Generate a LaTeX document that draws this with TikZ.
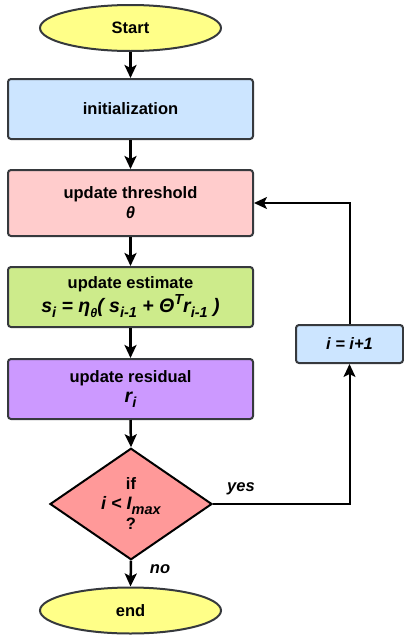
\documentclass[tikz,border=0pt]{standalone}
\usepackage{fontspec}
\setmainfont{Liberation Sans}
\usetikzlibrary{shapes.geometric,arrows.meta}
\definecolor{bordc}{HTML}{36393D}
\definecolor{yel}{HTML}{FFFF88}
\definecolor{lblue}{HTML}{CCE5FF}
\definecolor{lred}{HTML}{FFCCCC}
\definecolor{lgreen}{HTML}{CDEB8B}
\definecolor{lpurp}{HTML}{CC99FF}
\definecolor{dred}{HTML}{FF9999}
\newcommand{\msub}[1]{\raisebox{-0.45ex}{\fontsize{14.5}{14}\selectfont #1}}
\newcommand{\msubs}[1]{\raisebox{-0.45ex}{\fontsize{12.5}{12}\selectfont #1}}
\newcommand{\msup}[1]{\raisebox{0.8ex}{\fontsize{14.5}{14}\selectfont #1}}
\newcommand{\bigmath}{\fontsize{19.5}{20}\selectfont}
\tikzset{
  every node/.style={font=\fontsize{16.5}{20}\selectfont\bfseries, align=center},
  term/.style={ellipse, draw=bordc, line width=2pt, fill=yel, minimum width=181pt, minimum height=46pt, inner sep=0pt},
  proc/.style={rectangle, rounded corners=3pt, draw=bordc, line width=2pt, minimum width=245pt, inner sep=0pt},
  dec/.style={diamond, draw=black, line width=2pt, fill=dred, minimum width=162pt, minimum height=106pt, inner sep=0pt},
  arr/.style={line width=2.5pt, -{Stealth[length=13pt,width=12pt,inset=3pt]}},
  loop/.style={line width=2pt, -{Stealth[length=13pt,width=12pt,inset=3pt]}},
  lab/.style={font=\fontsize{16.5}{20}\selectfont\bfseries\itshape}
}
\begin{document}
\begin{tikzpicture}[x=1pt,y=-1pt]
\useasboundingbox (0,0) rectangle (404,635);
\node[term] (start) at (130.5,28) {Start};
\node[proc, fill=lblue, minimum height=60pt] (init) at (130.5,109) {initialization};
\node[proc, fill=lred, minimum height=66pt] (thr) at (130.5,203) {update threshold\\ \itshape θ};
\node[proc, fill=lgreen, minimum height=60pt] (est) at (130.5,297) {update estimate\\[1pt] {\bigmath\itshape s\msub{i} = η\msubs{θ}( s\msub{i-1} + Θ\msup{T}r\msub{i-1} )}};
\node[proc, fill=lpurp, minimum height=60pt] (res) at (130.5,389) {update residual\\ {\bigmath\itshape r\msub{i}}};
\node[dec] (d) at (131,504) {if\\ {\fontsize{18}{20}\selectfont\itshape i < I\msub{max}}\\ ?};
\node[term] (end) at (130.5,610.5) {end};
\node[proc, fill=lblue, minimum width=107pt, minimum height=38pt] (inc) at (349.5,344) {\itshape i = i+1};
\draw[arr] (start.south) -- (init.north);
\draw[arr] (init.south) -- (thr.north);
\draw[arr] (thr.south) -- (est.north);
\draw[arr] (est.south) -- (res.north);
\draw[arr] (res.south) -- (d.north);
\draw[arr] (d.south) -- (end.north);
\draw[loop] (d.east) -| (inc.south);
\draw[loop] (inc.north) |- (thr.east);
\node[lab] (yes) at (241,489) {yes};
\node[lab] (no) at (160,569) {no};
\end{tikzpicture}
\end{document}
